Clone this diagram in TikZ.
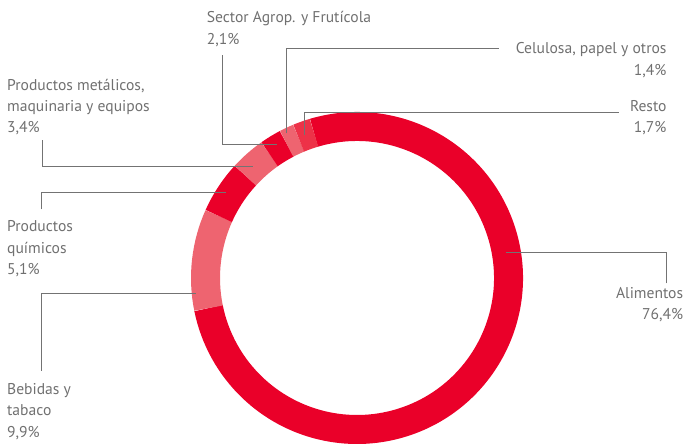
\documentclass[tikz,border=0pt]{standalone}
\usepackage{fontspec}
\setmainfont{PT Sans}
\definecolor{rojo}{RGB}{234,0,41}
\definecolor{rosa}{RGB}{238,100,112}
\definecolor{rojoclaro}{RGB}{237,50,72}
\definecolor{gristxt}{RGB}{112,112,112}
\definecolor{grilin}{RGB}{115,115,115}

\begin{document}
\begin{tikzpicture}[x=1pt,y=-1pt,
    lbl/.style={font=\fontsize{15.6}{21.3}\selectfont, text=gristxt, inner sep=0pt},
    lead/.style={draw=grilin, line width=1pt},
    seg/.style={line width=29pt}]
    \useasboundingbox (0,0) rectangle (685,445);
    \coordinate (c) at (357,278);
    % anillo
    \foreach \a/\d/\col in {-106.5/275.04/rojo, 168.54/35.64/rosa, 204.18/18.36/rojo,
        222.54/12.24/rosa, 234.78/7.56/rojo, 242.34/5.04/rosa, 247.38/6.12/rojoclaro}
        \draw[seg, \col] (c) ++(\a:151.5) arc[start angle=\a, delta angle=\d, radius=151.5];
    % etiquetas (ancladas en la ultima linea)
    \node[lbl, anchor=base west, align=left] (1) at (206.7,44) {Sector Agrop. y Frutícola\\2,1\%};
    \node[lbl, anchor=base east, align=right] (2) at (666.7,75) {Celulosa, papel y otros\\1,4\%};
    \node[lbl, anchor=base east, align=right] (3) at (666.7,132.7) {Resto\\1,7\%};
    \node[lbl, anchor=base west, align=left] (4) at (7,132.7) {Productos metálicos,\\maquinaria y equipos\\3,4\%};
    \node[lbl, anchor=base west, align=left] (5) at (7,274.3) {Productos\\químicos\\5,1\%};
    \node[lbl, anchor=base west, align=left] (6) at (7,437) {Bebidas y\\tabaco\\9,9\%};
    \node[lbl, anchor=base east, align=right] (7) at (683.3,319.3) {Alimentos\\76,4\%};
    % lineas guia
    \coordinate (a1) at (222.7,55);   \coordinate (p1) at (277.3,144.3);
    \coordinate (a2) at (499,48.5);   \coordinate (p2) at (286,133.3);
    \coordinate (a3) at (619.3,112.7); \coordinate (p3) at (304.3,135);
    \coordinate (a4) at (42,140);     \coordinate (p4) at (253.3,166.7);
    \coordinate (a5) at (41.7,209.3); \coordinate (p5) at (225.7,192.3);
    \coordinate (a6) at (41.7,370.7); \coordinate (p6) at (195.7,293.7);
    \coordinate (a7) at (666,283.3);  \coordinate (p7) at (506,252.7);
    \draw[lead] (a1) |- (p1);
    \draw[lead] (p2) |- (a2);
    \draw[lead] (p3) |- (a3);
    \draw[lead] (a4) |- (p4);
    \draw[lead] (a5) |- (p5);
    \draw[lead] (a6) |- (p6);
    \draw[lead] (a7) |- (p7);
\end{tikzpicture}
\end{document}
